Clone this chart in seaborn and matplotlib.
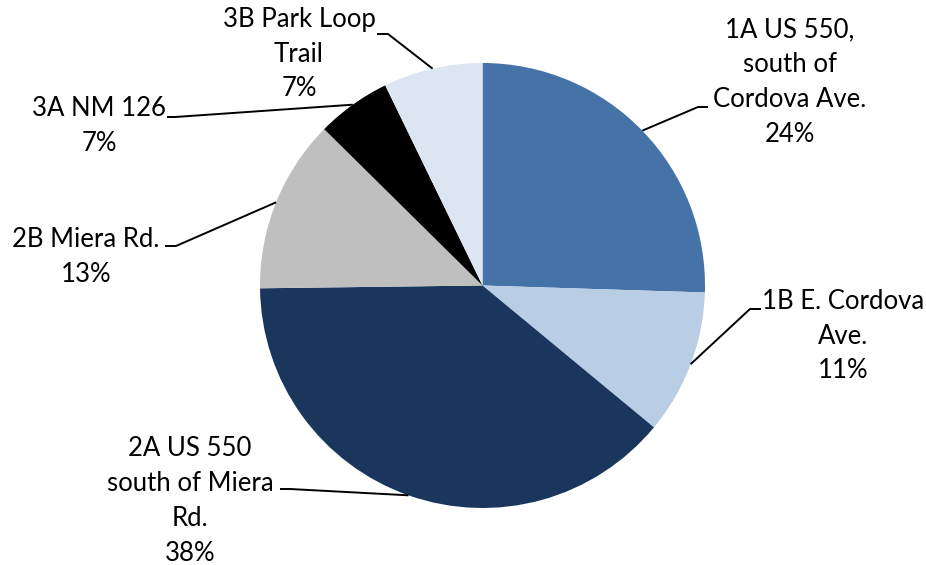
import numpy as np
import matplotlib
matplotlib.use("Agg")
import matplotlib.pyplot as plt
import seaborn as sns

# ---- data ----
categories = ["1A US 550,\nsouth of\nCordova Ave.", "1B E. Cordova\nAve.",
              "2A US 550\nsouth of Miera\nRd.", "2B Miera Rd.", "3A NM 126",
              "3B Park Loop\nTrail"]
shares = [25.5, 10.5, 38.8, 12.6, 5.4, 7.2]          # slice sizes
pct_labels = ["24%", "11%", "38%", "13%", "7%", "7%"]  # printed percentages
colors = ["#4673A7", "#B9CDE5", "#1A365D", "#BFBFBF", "#000000", "#DCE6F2"]

# ---- layout (pixels in 926x565 image) ----
W, H = 926, 565
CX, CY, R = 482.5, 285.5, 222.5
text_pos = [(790, 82), (843, 336), (190, 501), (86, 257), (99, 126), (299, 54)]
elbows = [(698, 107), (750, 309), (290, 489), (176, 246), (175, 117), (388, 34)]
ends = [(708, 107), (761, 309), (280, 489), (165, 246), (167, 117), (377, 34)]

def px(p):
    return ((p[0] - CX) / R, (CY - p[1]) / R)

sns.set_theme(style="white")
plt.rcParams["font.family"] = ["Lato", "DejaVu Sans"]

fig = plt.figure(figsize=(W / 100, H / 100), dpi=100)
ax = fig.add_axes([0, 0, 1, 1])
wedges, _ = ax.pie(shares, colors=colors, startangle=90, counterclock=False,
                   radius=1.0, wedgeprops=dict(linewidth=0))
ax.set_xlim(-CX / R, (W - CX) / R)
ax.set_ylim((CY - H) / R, CY / R)
ax.set_aspect("equal")
ax.axis("off")

for i, w in enumerate(wedges):
    mid = np.deg2rad((w.theta1 + w.theta2) / 2)
    edge = (np.cos(mid), np.sin(mid))
    e = px(elbows[i]); s = px(ends[i])
    ax.plot([edge[0], e[0], s[0]], [edge[1], e[1], s[1]], color="black", lw=1.4,
            solid_capstyle="butt")
    t = px(text_pos[i])
    ax.text(t[0], t[1], categories[i] + "\n" + pct_labels[i], ha="center",
            va="center", fontsize=18.5, linespacing=1.49, color="black",
            multialignment="center")

fig.savefig("out.png", dpi=100, facecolor="white")
